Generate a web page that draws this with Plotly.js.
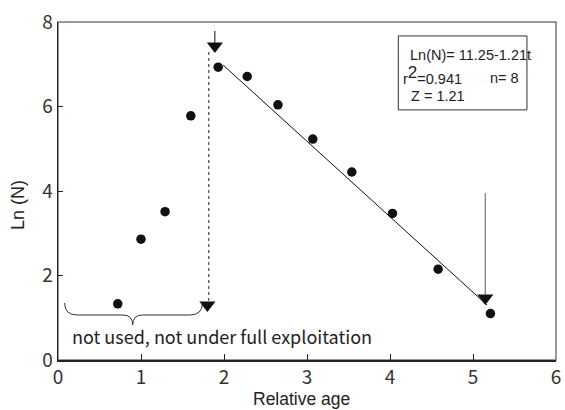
<!DOCTYPE html>
<html>
<head>
<meta charset="utf-8">
<script src="https://cdn.plot.ly/plotly-3.0.1.min.js"></script>
<style>html,body{margin:0;padding:0;background:#fff;}#chart{width:565px;height:410px;}</style>
</head>
<body>
<div id="chart"></div>
<script>
// Observed points (relative age, Ln(N))
const ageX = [0.72, 1.00, 1.29, 1.60, 1.93, 2.28, 2.65, 3.07, 3.54, 4.03, 4.58, 5.21];
const lnN  = [1.33, 2.86, 3.51, 5.78, 6.93, 6.71, 6.04, 5.23, 4.45, 3.47, 2.15, 1.10];

// Fitted regression line (end points)
const fitX = [1.99, 5.17];
const fitY = [6.98, 1.30];

// Dotted cut-off line
const cutX = [1.816, 1.816];
const cutY = [7.29, 1.40];

// Arrow stems and heads
const stemTopX = [1.89, 1.89];
const stemTopY = [7.79, 7.50];
const stemRightX = [5.148, 5.148];
const stemRightY = [3.95, 1.55];
const headX = [1.89, 1.80, 5.148];
const headY = [7.43, 1.30, 1.47];

// Brace under the unused points
const braceX0 = 0.08, braceX1 = 1.74, braceXc = 0.90;
const braceYTop = 1.35, braceYMid = 1.065, braceYTip = 0.83;

// Text
const xTicks = [0, 1, 2, 3, 4, 5, 6];
const yTicks = [0, 2, 4, 6, 8];
const xTitle = "Relative age";
const yTitle = "Ln (N)";
const noteText = "not used, not under full exploitation";
const boxLines = ["Ln(N)= 11.25-1.21t", "r<sup><span style='font-size:17px'>2</span></sup>=0.941", "n= 8", "Z = 1.21"];
const boxLineX = [4.22, 4.13, 5.18, 4.23];
const boxLineY = [7.23, 6.75, 6.68, 6.24];
const boxRect = {x0: 4.10, x1: 5.65, y0: 5.92, y1: 7.67};

const tickFont = {family: "Noto Sans CJK JP, Noto Sans, sans-serif", size: 19, color: "#333"};
const arialFont = {family: "Liberation Sans, Arial, sans-serif", color: "#222"};

const bracePath = `M${braceX0},${braceYTop} Q${braceX0},${braceYMid} ${braceX0+0.15},${braceYMid} ` +
  `L${braceXc-0.12},${braceYMid} Q${braceXc},${braceYMid} ${braceXc},${braceYTip} ` +
  `Q${braceXc},${braceYMid} ${braceXc+0.12},${braceYMid} L${braceX1-0.15},${braceYMid} ` +
  `Q${braceX1},${braceYMid} ${braceX1},${braceYTop}`;

const traces = [
  {x: fitX, y: fitY, mode: "lines", line: {color: "#111", width: 1}, hoverinfo: "skip"},
  {x: cutX, y: cutY, mode: "lines", line: {color: "#666", width: 1.5, dash: "dot"}, hoverinfo: "skip"},
  {x: stemTopX, y: stemTopY, mode: "lines", line: {color: "#111", width: 1}, hoverinfo: "skip"},
  {x: stemRightX, y: stemRightY, mode: "lines", line: {color: "#777", width: 1.2}, hoverinfo: "skip"},
  {x: headX, y: headY, mode: "markers", marker: {symbol: "triangle-down", size: 14, color: "#111"}, hoverinfo: "skip"},
  {x: ageX, y: lnN, mode: "markers", marker: {symbol: "circle", size: 9.5, color: "#111"}}
];

const annotations = [
  {x: 0.14, y: 0.56, xref: "x", yref: "y", text: noteText, showarrow: false, xanchor: "left", yanchor: "middle",
   font: {family: "Noto Sans CJK JP, Noto Sans, sans-serif", size: 18, color: "#222"}},
  {x: 0.488, y: -0.116, xref: "paper", yref: "paper", text: xTitle, showarrow: false, xanchor: "center", yanchor: "middle",
   font: Object.assign({size: 17.5}, arialFont)},
  {x: -0.0803, y: 0.4586, xref: "paper", yref: "paper", text: yTitle, showarrow: false, textangle: -90,
   xanchor: "center", yanchor: "middle", font: Object.assign({size: 18}, arialFont)}
];
boxLines.forEach((t, i) => annotations.push({
  x: boxLineX[i], y: boxLineY[i], xref: "x", yref: "y", text: t, showarrow: false,
  xanchor: "left", yanchor: "middle", font: Object.assign({size: 14.5}, arialFont)
}));

const layout = {
  width: 565, height: 410,
  margin: {l: 58, r: 9, t: 22, b: 50},
  paper_bgcolor: "#fff", plot_bgcolor: "#fff",
  showlegend: false,
  xaxis: {
    range: [0, 6], tickvals: xTicks, ticktext: xTicks.map(String),
    ticks: "inside", ticklen: 6, tickcolor: "#222", tickwidth: 1,
    showline: true, linecolor: "#222", linewidth: 1.5, showgrid: false, zeroline: false,
    tickfont: tickFont
  },
  yaxis: {
    range: [0, 8], tickvals: yTicks, ticktext: yTicks.map(String),
    ticks: "inside", ticklen: 5, tickcolor: "#222", tickwidth: 1,
    showline: true, linecolor: "#222", linewidth: 1.5, showgrid: false, zeroline: false,
    tickfont: tickFont
  },
  shapes: [
    {type: "rect", xref: "paper", yref: "paper", x0: 0, x1: 1, y0: 0, y1: 1, line: {color: "#777", width: 1.5}, layer: "below"},
    {type: "rect", xref: "x", yref: "y", x0: boxRect.x0, x1: boxRect.x1, y0: boxRect.y0, y1: boxRect.y1, line: {color: "#333", width: 1}},
    {type: "path", xref: "x", yref: "y", path: bracePath, line: {color: "#333", width: 1}}
  ],
  annotations: annotations
};

Plotly.newPlot("chart", traces, layout, {displayModeBar: false, staticPlot: true});
</script>
</body>
</html>
